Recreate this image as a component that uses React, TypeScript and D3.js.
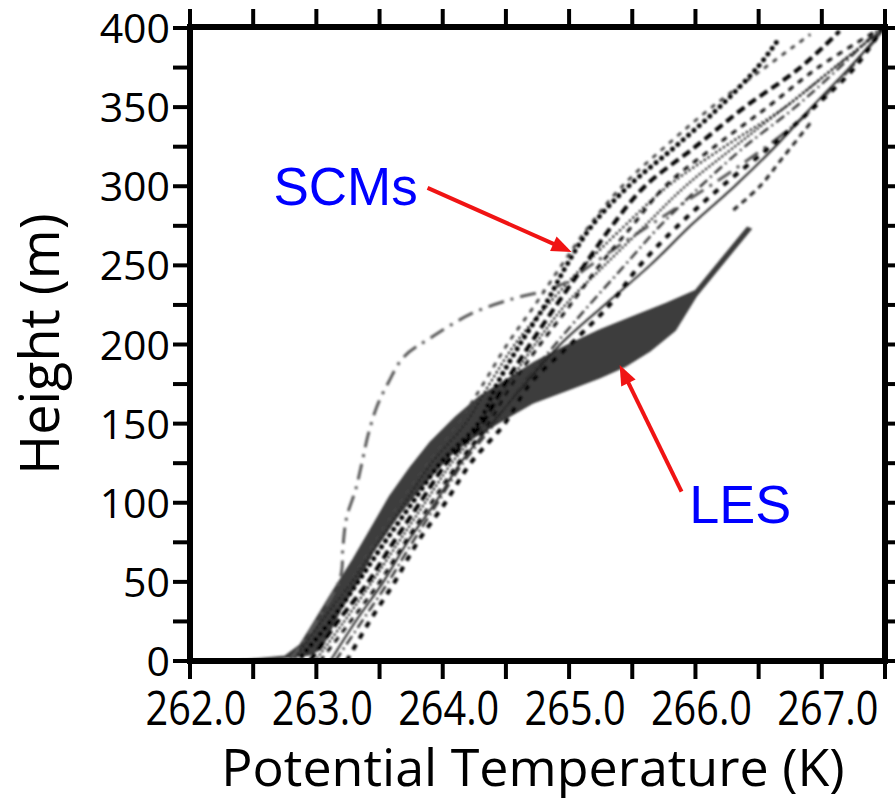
import React from "react";
import * as d3 from "d3";

// ---- Axis settings -------------------------------------------------------
const thetaDomain: [number, number] = [262, 267.5];
const heightDomain: [number, number] = [0, 400];
const xTickValues = [262, 262.5, 263, 263.5, 264, 264.5, 265, 265.5, 266, 266.5, 267, 267.5];
const xTickLabels = ["262.0", "263.0", "264.0", "265.0", "266.0", "267.0"];
const yTickValues = [0, 25, 50, 75, 100, 125, 150, 175, 200, 225, 250, 275, 300, 325, 350, 375, 400];
const yTickLabels = [0, 50, 100, 150, 200, 250, 300, 350, 400];

// ---- LES envelope (potential temperature K, height m) ----------------------
const lesColdEdge: [number, number][] = [
  [262.36, 0], [262.75, 3], [262.87, 10], [262.97, 23], [263.13, 44], [263.29, 64],
  [263.45, 86], [263.58, 104], [263.74, 122], [263.9, 138], [264.1, 154], [264.29, 167],
  [264.49, 177], [264.73, 189], [264.97, 199], [265.24, 209], [265.52, 218], [265.77, 226],
  [266.0, 234], [266.41, 274],
];
const lesWarmEdge: [number, number][] = [
  [262.55, 0], [262.95, 4], [263.04, 8], [263.19, 32], [263.32, 49], [263.45, 69],
  [263.64, 91], [263.78, 105], [263.9, 116], [264.06, 130], [264.22, 140], [264.45, 151],
  [264.71, 163], [264.98, 171], [265.24, 179], [265.44, 186], [265.64, 196], [265.84, 209],
  [266.01, 231], [266.44, 273],
];

// ---- SCM profiles ----------------------------------------------------------
const scmHeights = [0, 25, 50, 75, 100, 125, 150, 175, 200, 225, 250, 275, 300, 325, 350, 375, 400];
const scmLargeDots = [262.85, 263.11, 263.33, 263.54, 263.76, 263.98, 264.28, 264.43, 264.61, 264.81, 264.98, 265.18, 265.47, 265.84, 266.19, 266.49, 266.65];
const scmLargeDotsHeights = [0, 25, 50, 75, 100, 125, 150, 175, 200, 225, 250, 275, 300, 325, 350, 375, 392];
const scmHeavyDash = [262.95, 263.17, 263.41, 263.61, 263.82, 264.03, 264.31, 264.49, 264.69, 264.9, 265.12, 265.34, 265.6, 266.0, 266.39, 266.83, 267.14];
const scmHeavyDashHeights = [0, 25, 50, 75, 100, 125, 150, 175, 200, 225, 250, 275, 300, 325, 350, 375, 398];
const scmMediumDash = [263.03, 263.27, 263.5, 263.7, 263.91, 264.12, 264.36, 264.55, 264.77, 265.01, 265.24, 265.5, 265.76, 266.15, 266.57, 266.97, 267.47];
const scmFineDots = [262.81, 263.04, 263.28, 263.49, 263.7, 263.91, 264.18, 264.37, 264.57, 264.83, 265.12, 265.44, 265.78, 266.23, 266.71, 267.1, 267.5];
const scmGrayDash = [262.87, 263.08, 263.27, 263.46, 263.66, 263.88, 264.12, 264.32, 264.51, 264.73, 264.94, 265.16, 265.42, 265.76, 266.13, 266.55, 266.91];
const scmGrayDashHeights = [0, 25, 50, 75, 100, 125, 150, 175, 200, 225, 250, 275, 300, 325, 350, 375, 396];
const scmWideDash = [263.24, 263.42, 263.62, 263.8, 264.02, 264.22, 264.49, 264.69, 265.01, 265.32, 265.56, 265.86, 266.21, 266.59, 266.94, 267.26, 267.48];
const scmDashDotFine = [263.15, 263.36, 263.57, 263.76, 263.96, 264.16, 264.41, 264.63, 264.89, 265.16, 265.44, 265.72, 266.04, 266.39, 266.79, 267.14, 267.46];
const scmSmallDots = [262.99, 263.22, 263.44, 263.65, 263.86, 264.07, 264.33, 264.52, 264.73, 264.97, 265.28, 265.6, 265.92, 266.31, 266.71, 267.1, 267.49];
const scmSolid = [263.11, 263.31, 263.53, 263.72, 263.94, 264.14, 264.39, 264.65, 264.93, 265.28, 265.64, 265.96, 266.31, 266.63, 266.92, 267.22, 267.5];
const scmShortDash = [266.3, 266.51, 266.69, 266.93];
const scmShortDashHeights = [285, 300, 318, 342];
const scmLongDashDot: [number, number][] = [
  [262.79, 0], [263.01, 26], [263.19, 53], [263.21, 72], [263.24, 91], [263.31, 108],
  [263.36, 125], [263.41, 143], [263.48, 161], [263.57, 176], [263.69, 192], [263.92, 205],
  [264.24, 220], [264.56, 229], [264.81, 234], [264.97, 239], [265.17, 250], [265.48, 267],
  [265.88, 288], [266.35, 313], [266.83, 342], [267.22, 374], [267.46, 396],
];

// ---- Annotations (placed in data coordinates) ------------------------------
const scmLabel = { text: "SCMs", theta: 262.66, height: 288 };
const scmArrow = { from: [263.88, 299] as [number, number], to: [265.02, 258.5] as [number, number] };
const lesLabel = { text: "LES", theta: 265.95, height: 87 };
const lesArrow = { from: [265.89, 107] as [number, number], to: [265.4, 187] as [number, number] };

const zip = (thetas: number[], heights: number[]): [number, number][] =>
  thetas.map((t, i) => [t, heights[i]]);

type Style = { stroke: string; width: number; dash?: string; cap?: "round" | "butt" };

const scmSeries: { pts: [number, number][]; style: Style }[] = [
  { pts: scmLongDashDot, style: { stroke: "#5a5a5a", width: 3, dash: "16 7 3 7" } },
  { pts: zip(scmSolid, scmHeights), style: { stroke: "#222", width: 2 } },
  { pts: zip(scmSmallDots, scmHeights), style: { stroke: "#333", width: 2.6, dash: "0.1 4", cap: "round" } },
  { pts: zip(scmDashDotFine, scmHeights), style: { stroke: "#333", width: 2.4, dash: "10 4 2 4" } },
  { pts: zip(scmWideDash, scmHeights), style: { stroke: "#000", width: 4, dash: "6 7" } },
  { pts: zip(scmGrayDash, scmGrayDashHeights), style: { stroke: "#444", width: 2.8, dash: "5 6" } },
  { pts: zip(scmFineDots, scmHeights), style: { stroke: "#222", width: 2.6, dash: "0.1 4.5", cap: "round" } },
  { pts: zip(scmMediumDash, scmHeights), style: { stroke: "#111", width: 3, dash: "6 6" } },
  { pts: zip(scmHeavyDash, scmHeavyDashHeights), style: { stroke: "#000", width: 4, dash: "9 5" } },
  { pts: zip(scmLargeDots, scmLargeDotsHeights), style: { stroke: "#000", width: 4.8, dash: "0.1 7", cap: "round" } },
  { pts: zip(scmShortDash, scmShortDashHeights), style: { stroke: "#222", width: 3, dash: "6 5" } },
];

const W = 895;
const H = 800;
const AXIS_FONT = "'Open Sans', 'Noto Sans', sans-serif";
const NOTE_FONT = "'Liberation Sans', Arial, sans-serif";

function Arrow({ x1, y1, x2, y2 }: { x1: number; y1: number; x2: number; y2: number }) {
  const dx = x2 - x1;
  const dy = y2 - y1;
  const len = Math.hypot(dx, dy);
  const ux = dx / len;
  const uy = dy / len;
  const headLen = 20;
  const half = 8;
  const bx = x2 - ux * headLen;
  const by = y2 - uy * headLen;
  const pts = [
    [x2, y2],
    [bx - uy * half, by + ux * half],
    [bx + uy * half, by - ux * half],
  ];
  return (
    <g>
      <line x1={x1} y1={y1} x2={bx + ux * 2} y2={by + uy * 2} stroke="#f01414" strokeWidth={4} />
      <polygon points={pts.map((p) => p.join(",")).join(" ")} fill="#f01414" />
    </g>
  );
}

export default function App() {
  const x = d3.scaleLinear().domain(thetaDomain).range([190, 885]);
  const y = d3.scaleLinear().domain(heightDomain).range([661, 28]);
  const left = x(thetaDomain[0]);
  const right = x(thetaDomain[1]);
  const bottom = y(heightDomain[0]);
  const top = y(heightDomain[1]) - 1;

  const line = d3
    .line<[number, number]>()
    .x((d) => x(d[0]))
    .y((d) => y(d[1]))
    .curve(d3.curveCatmullRom.alpha(0.5));

  const band = d3
    .line<[number, number]>()
    .x((d) => x(d[0]))
    .y((d) => y(d[1]))
    .curve(d3.curveLinearClosed);
  const bandPath = band([...lesColdEdge, ...lesWarmEdge.slice().reverse()]) || "";

  const tickLen = 18;

  return (
    <svg
      width={W}
      height={H}
      viewBox={`0 0 ${W} ${H}`}
      style={{ position: "absolute", left: 0, top: 0, background: "#fff" }}
    >
      <defs>
        <clipPath id="plot-area">
          <rect x={left} y={top} width={right - left} height={bottom - top} />
        </clipPath>
        <filter id="soft" x="-5%" y="-5%" width="110%" height="110%">
          <feGaussianBlur stdDeviation={0.9} />
        </filter>
      </defs>
      <rect x={0} y={0} width={W} height={H} fill="#fff" />

      {/* profiles */}
      <g clipPath="url(#plot-area)">
        <g filter="url(#soft)">
          <path d={bandPath} fill="#3c3c3c" stroke="#3c3c3c" strokeWidth={1.5} />
          {scmSeries.map((s, i) => (
            <path
              key={i}
              d={line(s.pts) || ""}
              fill="none"
              stroke={s.style.stroke}
              strokeWidth={s.style.width}
              strokeDasharray={s.style.dash}
              strokeLinecap={s.style.cap || "butt"}
            />
          ))}
        </g>
      </g>

      {/* frame and ticks */}
      <g stroke="#000">
        {xTickValues.map((v) => (
          <g key={`xt${v}`}>
            <line x1={x(v)} x2={x(v)} y1={bottom} y2={bottom + tickLen} strokeWidth={4} />
            <line x1={x(v)} x2={x(v)} y1={top} y2={top - tickLen} strokeWidth={4} />
          </g>
        ))}
        {yTickValues.map((v) => (
          <g key={`yt${v}`}>
            <line x1={left} x2={left - 17} y1={y(v)} y2={y(v)} strokeWidth={4} />
            <line x1={right} x2={right + 17} y1={y(v)} y2={y(v)} strokeWidth={4} />
          </g>
        ))}
        <rect
          x={left}
          y={top}
          width={right - left}
          height={bottom - top}
          fill="none"
          strokeWidth={6}
        />
      </g>

      {/* tick labels */}
      <g fontFamily={AXIS_FONT} fill="#000">
        {xTickLabels.map((lab) => (
          <text
            key={lab}
            x={x(parseFloat(lab)) + 6}
            y={725}
            textAnchor="middle"
            fontSize={48}
            textLength={101}
            lengthAdjust="spacingAndGlyphs"
          >
            {lab}
          </text>
        ))}
        {yTickLabels.map((v) => (
          <text key={v} x={170} y={y(v) + 15} textAnchor="end" fontSize={41}>
            {v}
          </text>
        ))}
      </g>

      {/* axis titles */}
      <text
        x={533}
        y={786}
        textAnchor="middle"
        fontFamily={AXIS_FONT}
        fontSize={52}
        fill="#000"
      >
        Potential Temperature (K)
      </text>
      <text
        transform={`translate(59,${(top + bottom) / 2}) rotate(-90)`}
        textAnchor="middle"
        fontFamily={AXIS_FONT}
        fontSize={54}
        fill="#000"
      >
        Height (m)
      </text>

      {/* annotations */}
      <text x={x(scmLabel.theta)} y={y(scmLabel.height)} fontFamily={NOTE_FONT} fontSize={53} fill="#0000ff">
        {scmLabel.text}
      </text>
      <Arrow x1={x(scmArrow.from[0])} y1={y(scmArrow.from[1])} x2={x(scmArrow.to[0])} y2={y(scmArrow.to[1])} />
      <text x={x(lesLabel.theta)} y={y(lesLabel.height)} fontFamily={NOTE_FONT} fontSize={54} fill="#0000ff">
        {lesLabel.text}
      </text>
      <Arrow x1={x(lesArrow.from[0])} y1={y(lesArrow.from[1])} x2={x(lesArrow.to[0])} y2={y(lesArrow.to[1])} />
    </svg>
  );
}
